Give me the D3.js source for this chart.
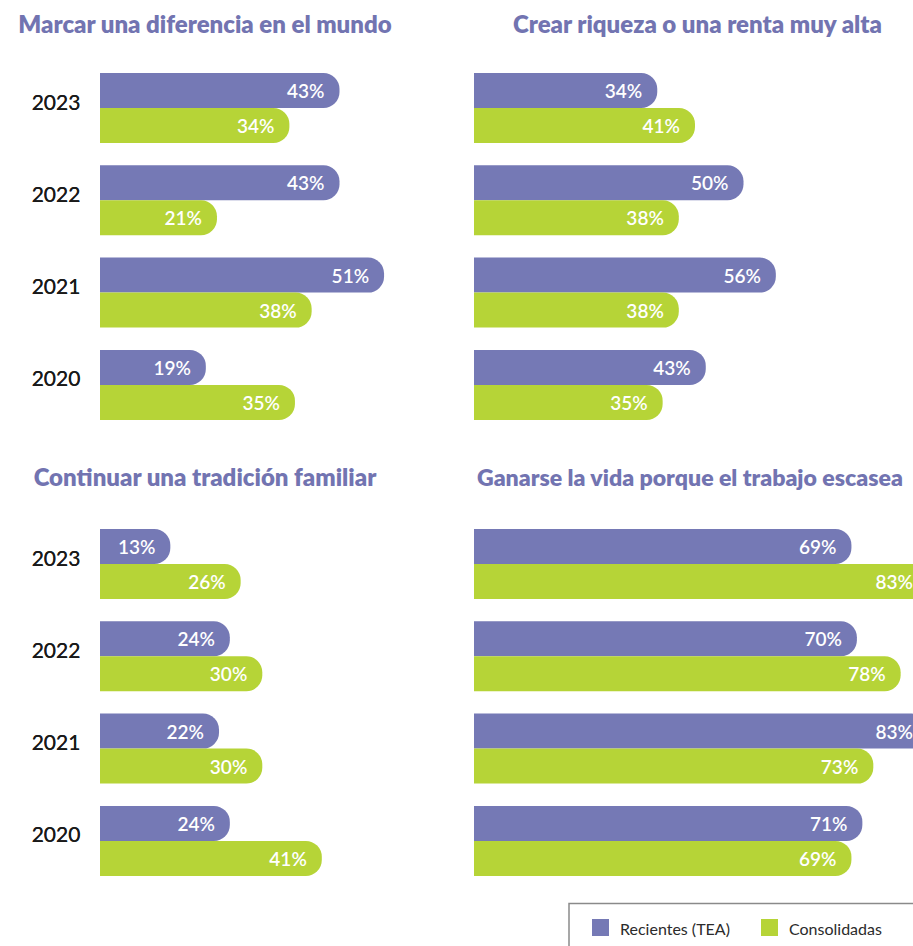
<!DOCTYPE html>
<html>
<head>
<meta charset="utf-8">
<script src="https://cdn.jsdelivr.net/npm/d3@7"></script>
<style>
  body { margin: 0; background: #fff; }
  svg { display: block; font-family: Lato, "Open Sans", sans-serif; }
</style>
</head>
<body>
<svg id="chart"></svg>
<script>
var years = ["2023", "2022", "2021", "2020"];
var series = ["Recientes (TEA)", "Consolidadas"];
var titles = [
  "Marcar una diferencia en el mundo",
  "Crear riqueza o una renta muy alta",
  "Continuar una tradición familiar",
  "Ganarse la vida porque el trabajo escasea"
];
// values per panel, same order as years
var recientes = [
  [43, 43, 51, 19],
  [34, 50, 56, 43],
  [13, 24, 22, 24],
  [69, 70, 83, 71]
];
var consolidadas = [
  [34, 21, 38, 35],
  [41, 38, 38, 35],
  [26, 30, 30, 41],
  [83, 78, 73, 69]
];

var W = 913, H = 946;
var colors = ["#7579b5", "#b6d437"];

// layout: bar origin, first group top, title centre, title baseline, px span for 100%
var layout = [
  { x0: 100, y0: 73,  tx: 205,   ty: 33,  span: 557 },
  { x0: 474, y0: 73,  tx: 697.5, ty: 33,  span: 539 },
  { x0: 100, y0: 529, tx: 205,   ty: 486, span: 541 },
  { x0: 474, y0: 529, tx: 697.5, ty: 486, span: 547 }
];

var svg = d3.select("#chart").attr("width", W).attr("height", H);

var step = 92.3, groupH = 70, pad = (step - groupH) / step;

function barPath(x0, x1, y, h) {
  var r = Math.min(16, h / 2, (x1 - x0));
  return "M" + x0 + "," + y +
    "H" + (x1 - r) +
    "A" + r + "," + r + " 0 0 1 " + x1 + "," + (y + r) +
    "V" + (y + h - r) +
    "A" + r + "," + r + " 0 0 1 " + (x1 - r) + "," + (y + h) +
    "H" + x0 + "Z";
}

titles.forEach(function (title, p) {
  var L = layout[p];
  var x = d3.scaleLinear().domain([0, 100]).range([L.x0, L.x0 + L.span]);
  var y = d3.scaleBand().domain(years)
    .range([L.y0, L.y0 + 3 * step + groupH])
    .paddingInner(pad).paddingOuter(0);
  var ys = d3.scaleBand().domain(series).range([0, y.bandwidth()]);

  var g = svg.append("g").attr("class", "panel");

  var t = g.append("text")
    .attr("x", L.tx).attr("y", L.ty)
    .attr("text-anchor", "middle")
    .attr("font-size", 24).attr("font-weight", 800)
    .attr("fill", "#7274b1")
    .text(title);

  // keep long titles inside the page: pin the left edge, shrink the font
  var len = t.node().getComputedTextLength();
  var maxRight = W - 10;
  if (L.tx + len / 2 > maxRight) {
    var left = 477;
    t.attr("text-anchor", "start").attr("x", left)
      .attr("font-size", 24 * (maxRight - left) / len);
  }

  var rows = years.map(function (yr, i) {
    return { year: yr, vals: [recientes[p][i], consolidadas[p][i]] };
  });

  var grp = g.selectAll("g.year").data(rows).enter().append("g")
    .attr("class", "year")
    .attr("transform", function (d) { return "translate(0," + y(d.year) + ")"; });

  grp.append("text")
    .attr("x", 56).attr("y", y.bandwidth() / 2 - 7)
    .attr("text-anchor", "middle")
    .attr("dominant-baseline", "central")
    .attr("font-size", 21)
    .attr("fill", "#1a1a1a")
    .text(function (d) { return d.year; });

  grp.each(function (d) {
    var sel = d3.select(this);
    d.vals.forEach(function (v, s) {
      var yy = ys(series[s]);
      sel.append("path")
        .attr("d", barPath(x(0), x(v), yy, ys.bandwidth()))
        .attr("fill", colors[s]);
      sel.append("text")
        .attr("x", x(v) - 15)
        .attr("y", yy + ys.bandwidth() / 2)
        .attr("text-anchor", "end")
        .attr("dominant-baseline", "central")
        .attr("font-size", 19).attr("font-weight", 600)
        .attr("fill", "#fff")
        .text(v + "%");
    });
  });
});

// legend
var lg = svg.append("g").attr("class", "legend");
lg.append("rect")
  .attr("x", 569).attr("y", 903.5).attr("width", 400).attr("height", 60)
  .attr("fill", "#fff").attr("stroke", "#8a8a8a").attr("stroke-width", 1.5);
var lx = [592, 761];
series.forEach(function (s, i) {
  lg.append("rect").attr("x", lx[i]).attr("y", 919).attr("width", 17).attr("height", 17)
    .attr("fill", colors[i]);
  lg.append("text").attr("x", lx[i] + 28).attr("y", 928)
    .attr("dominant-baseline", "central")
    .attr("font-size", 16).attr("fill", "#2b2b2b")
    .text(s);
});
</script>
</body>
</html>
